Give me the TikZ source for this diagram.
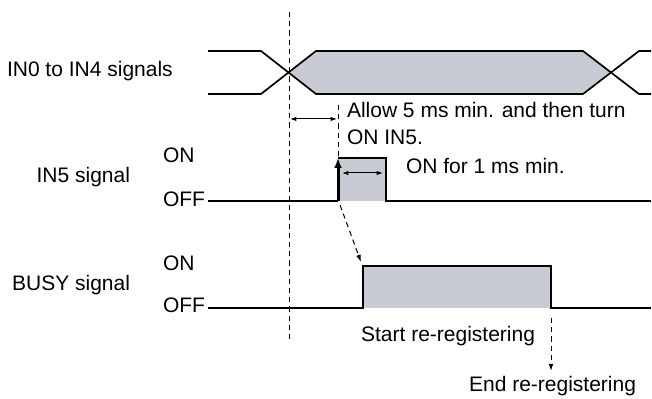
\documentclass[tikz,border=0pt]{standalone}
\usepackage{fontspec}
\setmainfont{Liberation Sans}
\usetikzlibrary{arrows.meta}
\definecolor{pulsegray}{RGB}{200,203,211}
\begin{document}
\begin{tikzpicture}[x=0.5pt,y=-0.5pt,
  wave/.style={line width=0.85pt,line join=miter},
  txt/.style={font=\fontsize{10.5}{13.25}\selectfont,inner sep=0pt,outer sep=0pt},
  guide/.style={line width=0.5pt,dash pattern=on 2.6pt off 2pt},
  dimarrow/.style={line width=0.5pt,{Latex[length=3.2pt,width=2.2pt]}-{Latex[length=3.2pt,width=2.2pt]}},
  guidearrow/.style={guide,-{Latex[length=3.6pt,width=2.4pt]}},
  thickarrow/.style={line width=1.5pt,-{Latex[length=5pt,width=4pt]}}]
\useasboundingbox (0,0) rectangle (652,399);

% ---- coordinates of IN0-IN4 bus ----
\coordinate (bTL) at (208,51);
\coordinate (bBL) at (208,94);
\coordinate (b1T) at (261,51);
\coordinate (b1B) at (261,94);
\coordinate (bX1) at (288,72.5);
\coordinate (b2T) at (316,51);
\coordinate (b2B) at (316,94);
\coordinate (b3T) at (583,51);
\coordinate (b3B) at (583,94);
\coordinate (bX2) at (611,72.5);
\coordinate (b4T) at (639,51);
\coordinate (b4B) at (639,94);
\coordinate (bTR) at (651,51);
\coordinate (bBR) at (651,94);

\fill[pulsegray] (bX1) -- (b2T) -- (b3T) -- (bX2) -- (b3B) -- (b2B) -- cycle;
\draw[wave] (bTL) -- (b1T) -- (b2B) -- (b3B) -- (b4T) -- (bTR);
\draw[wave] (bBL) -- (b1B) -- (b2T) -- (b3T) -- (b4B) -- (bBR);

% ---- IN5 ----
\coordinate (i0) at (208,201);
\coordinate (iR) at (338,201);
\coordinate (iRT) at (338,158);
\coordinate (iFT) at (386,158);
\coordinate (iF) at (386,201);
\coordinate (iE) at (651,201);
\fill[pulsegray] (iRT) rectangle (iF);
\draw[wave] (i0) -- (iR);
\draw[wave] (iRT) -- (iFT) -- (iF) -- (iE);
\draw[thickarrow] (iR) -- (iRT);
\coordinate (wA) at (342,173);
\coordinate (wB) at (383,173);
\draw[dimarrow] (wA) -- (wB);

% ---- BUSY ----
\coordinate (s0) at (208,308);
\coordinate (sR) at (363,308);
\coordinate (sRT) at (363,266);
\coordinate (sFT) at (551,266);
\coordinate (sF) at (551,308);
\coordinate (sE) at (651,308);
\fill[pulsegray] (sRT) rectangle (sF);
\draw[wave] (s0) -- (sR) -- (sRT) -- (sFT) -- (sF) -- (sE);

% ---- guides ----
\coordinate (gTop) at (289,12);
\coordinate (gBot) at (289,340);
\draw[guide] (gTop) -- (gBot);
\coordinate (g2Top) at (338,105);
\draw[guide] (g2Top) -- (iRT);
\coordinate (dA) at (290,119);
\coordinate (dB) at (337,119);
\draw[dimarrow] (dA) -- (dB);
\coordinate (cA) at (340,205);
\coordinate (cB) at (361,262);
\draw[guidearrow] (cA) -- (cB);
\coordinate (eA) at (551,318);
\coordinate (eB) at (551,371);
\draw[guidearrow] (eA) -- (eB);

% ---- texts ----
\node[txt,anchor=base west] (tbus) at (7,77) {IN0 to IN4 signals};
\node[txt,anchor=base east] (tin5) at (130,183) {IN5 signal};
\node[txt,anchor=base west] (on1) at (163,163) {ON};
\node[txt,anchor=base west] (off1) at (163,207) {OFF};
\node[txt,anchor=base east] (tbusy) at (130,291) {BUSY signal};
\node[txt,anchor=base west] (on2) at (163,271) {ON};
\node[txt,anchor=base west] (off2) at (163,313) {OFF};
\node[txt,anchor=base west] (allow) at (347,118) {Allow 5 ms min. and then turn};
\node[txt,anchor=base west] (allow2) at (347,145) {ON IN5.};
\node[txt,anchor=base west] (onfor) at (406,174) {ON for 1 ms min.};
\node[txt,anchor=base east] (start) at (535,342) {Start re-registering};
\node[txt,anchor=base east] (endr) at (636,392) {End re-registering};
\end{tikzpicture}
\end{document}
